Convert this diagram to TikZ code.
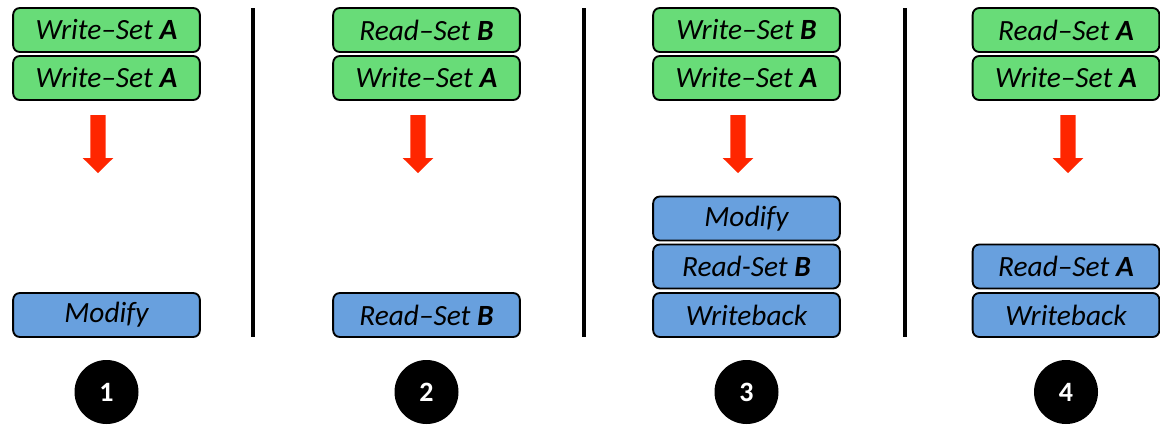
\documentclass[tikz,border=0pt]{standalone}
\usepackage{fontspec}
\setmainfont{Carlito}
\definecolor{verde}{RGB}{104,220,120}
\definecolor{azul}{RGB}{104,160,222}
\definecolor{vermelho}{RGB}{255,38,0}
\tikzset{
  caixa/.style={draw=black, line width=1.4pt, rounded corners=5pt,
    minimum width=140pt, minimum height=33pt, inner sep=0pt,
    font=\fontsize{22}{26}\selectfont\itshape},
  escrita/.style={caixa, fill=verde},
  leitura/.style={caixa, fill=azul},
  seta/.style={fill=vermelho},
  numero/.style={circle, fill=black, minimum size=48pt, inner sep=0pt,
    text=white, font=\fontsize{21}{24}\selectfont\bfseries}
}
\begin{document}
\begin{tikzpicture}[x=0.75pt, y=-0.75pt]
  \useasboundingbox (0,0) rectangle (1160,425);

  % divisórias
  \foreach \x/\n in {253/a, 584/b, 905/c} {
    \coordinate (top\n) at (\x,8);
    \coordinate (bot\n) at (\x,337);
    \draw[line width=2.4pt] (top\n) -- (bot\n);
  }

  % caixas de entrada
  \node[escrita] (e1a) at (106.5,30) {Write--Set \textbf{A}};
  \node[escrita] (e1b) at (106.5,78) {Write--Set \textbf{A}};
  \node[escrita] (e2a) at (426.5,30) {Read--Set \textbf{B}};
  \node[escrita] (e2b) at (426.5,78) {Write--Set \textbf{A}};
  \node[escrita] (e3a) at (746.5,30) {Write--Set \textbf{B}};
  \node[escrita] (e3b) at (746.5,78) {Write--Set \textbf{A}};
  \node[escrita] (e4a) at (1066,30) {Read--Set \textbf{A}};
  \node[escrita] (e4b) at (1066,78) {Write--Set \textbf{A}};

  % setas
  \foreach \x in {98, 418, 738, 1068}
    \fill[seta, shift={(\x,115)}] (-7.7,0) -- (7.7,0) -- (7.7,43) -- (15.3,43)
      -- (0,58) -- (-15.3,43) -- (-7.7,43) -- cycle;

  % caixas de saída
  \node[leitura] (s1a) at (106.5,315) {Modify};
  \node[leitura] (s2a) at (426.5,315) {Read--Set \textbf{B}};
  \node[leitura] (s3a) at (746.5,218.5) {Modify};
  \node[leitura] (s3b) at (746.5,266.5) {Read-Set \textbf{B}};
  \node[leitura] (s3c) at (746.5,315) {Writeback};
  \node[leitura] (s4a) at (1066,266.5) {Read--Set \textbf{A}};
  \node[leitura] (s4b) at (1066,315) {Writeback};

  % números
  \node[numero] (n1) at (106.5,392) {1};
  \node[numero] (n2) at (426.5,392) {2};
  \node[numero] (n3) at (746.5,392) {3};
  \node[numero] (n4) at (1066,392) {4};
\end{tikzpicture}
\end{document}
